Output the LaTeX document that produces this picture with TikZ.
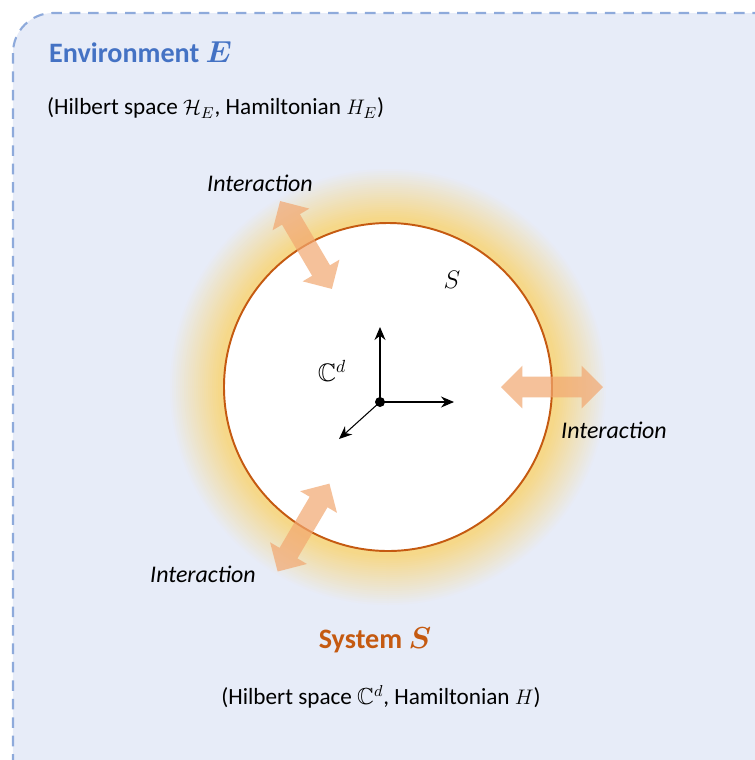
\documentclass[tikz,border=0pt]{standalone}
\usepackage{amsmath}
\usepackage{amssymb}
\usepackage{bm}
\usepackage{fontspec}
\setmainfont{Carlito}
\usepackage{xcolor}
\usetikzlibrary{
    arrows.meta,
    positioning,
    shapes.arrows
}

\definecolor{envfill}{HTML}{E7ECF8}
\definecolor{envline}{HTML}{8EAADB}
\definecolor{envtext}{HTML}{4472C4}
\definecolor{systext}{HTML}{C55A11}
\definecolor{glowyellow}{HTML}{F6D889}
\definecolor{arrowfill}{HTML}{F2A770}

\begin{document}
\begin{tikzpicture}[
        env/.style={
            draw=envline,
            fill=envfill,
            line width=1.2pt,
            dash pattern=on 6pt off 4.5pt,
            rounded corners=0.8cm
        },
        system/.style={
            circle,
            draw=systext,
            fill=white,
            line width=1.1pt,
            outer sep=0pt,
            minimum size=6.56cm
        },
        iarrow/.style={
            double arrow,
            fill=arrowfill,
            fill opacity=0.7,
            draw=none,
            inner xsep=0pt,
            inner ysep=0.2cm,
            minimum height=2.04cm,
            minimum width=0.84cm,
            double arrow head extend=0.22cm
        },
        ilabel/.style={
            font=\fontsize{13.6}{15}\selectfont\itshape
        },
        title/.style={
            font=\fontsize{16}{19}\selectfont\bfseries\boldmath
        },
        info/.style={
            font=\fontsize{13.2}{15}\selectfont
        },
        axis/.style={
            -{Stealth[length=2.6mm, width=2.2mm]},
            line width=0.6pt
        }
    ]

    \useasboundingbox (0,0) rectangle (15.1,-15.2);

    % environment
    \draw[env] (0.26,-0.26) rectangle (16,-16);

    \node[title, text=envtext, anchor=west] (envtitle)
        at (0.86,-1.04) {Environment $E$};
    \node[info, anchor=west] (envinfo)
        at (0.82,-2.16)
        {(Hilbert space $\mathcal{H}_E$, Hamiltonian $H_E$)};

    % system with glow
    \foreach \i [evaluate=\i as \r using 4.4-0.04*\i,
                 evaluate=\i as \p using int(4*\i)] in {0,...,25}
        \fill[glowyellow!\p!envfill] (7.76,-7.74) circle (\r cm);
    \node[system] (sys) at (7.76,-7.74) {};
    \node[font=\Large] (slabel) at (9.04,-5.6) {$S$};

    % basis of C^d
    \coordinate (o) at (7.6,-8.04);
    \draw[axis] (o) -- ++(0,1.5) coordinate (ey);
    \draw[axis] (o) -- ++(1.48,0) coordinate (ex);
    \draw[axis] (o) -- ++(-0.82,-0.74) coordinate (ez);
    \fill (o) circle (0.1cm);
    \node[font=\Large] (cd) at (6.64,-7.42) {$\mathbb{C}^d$};

    % interactions
    \node[iarrow, rotate=-59.5] (ia1) at (sys.120.5) {};
    \node[iarrow] (ia2) at (sys.0) {};
    \node[iarrow, rotate=59.5] (ia3) at (sys.239.5) {};

    \node[ilabel] (il1) at (5.2,-3.66) {Interaction};
    \node[ilabel] (il2) at (12.28,-8.6) {Interaction};
    \node[ilabel] (il3) at (4.06,-11.48) {Interaction};

    % system captions
    \node[title, text=systext] (systitle)
        at (7.5,-12.8) {System $S$};
    \node[info] (sysinfo)
        at (7.62,-13.94)
        {(Hilbert space $\mathbb{C}^d$, Hamiltonian $H$)};

\end{tikzpicture}
\end{document}
